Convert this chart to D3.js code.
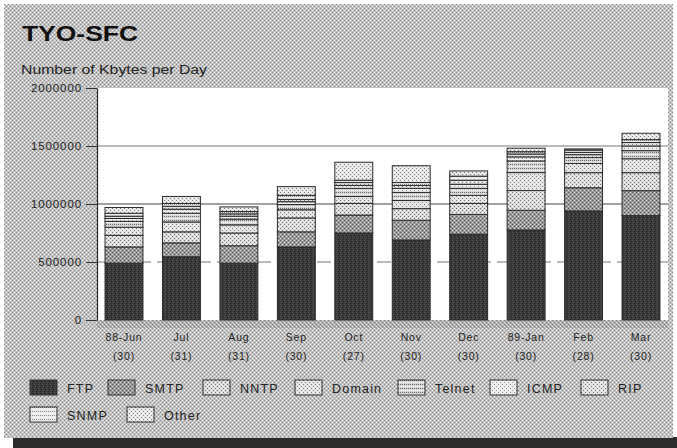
<!DOCTYPE html>
<html>
<head>
<meta charset="utf-8">
<script src="https://cdn.jsdelivr.net/npm/d3@7"></script>
<style>
  html, body { margin: 0; padding: 0; background: #fff; }
  svg { display: block; font-family: "Liberation Sans", Arial, sans-serif; }
</style>
</head>
<body>
<svg id="chart" width="677" height="448"></svg>
<script>
// Monthly traffic on the TYO-SFC link, Kbytes per day, split by protocol
const months = ["88-Jun", "Jul", "Aug", "Sep", "Oct", "Nov", "Dec", "89-Jan", "Feb", "Mar"];
const days = ["(30)", "(31)", "(31)", "(30)", "(27)", "(30)", "(30)", "(30)", "(28)", "(30)"];
const seriesNames = ["FTP", "SMTP", "NNTP", "Domain", "Telnet", "ICMP", "RIP", "SNMP", "Other"];

const ftp    = [490000, 545000, 490000, 630000, 750000, 690000, 740000, 776000, 940000, 900000];
const smtp   = [140000, 120000, 150000, 130000, 155000, 170000, 170000, 170000, 200000, 215000];
const nntp   = [100000,  95000, 110000, 120000, 100000, 100000,  95000, 170000, 130000, 155000];
const domain = [ 70000,  85000,  70000,  70000,  60000,  70000,  70000, 155000,  80000, 120000];
const telnet = [ 50000,  75000,  50000,  45000,  70000,  70000,  60000, 100000,  50000,  70000];
const icmp   = [ 25000,  35000,  25000,  25000,  25000,  35000,  35000,  35000,  25000,  40000];
const rip    = [ 20000,  25000,  20000,  20000,  25000,  25000,  35000,  25000,  20000,  30000];
const snmp   = [ 25000,  25000,  20000,  35000,  20000,  25000,  35000,  20000,  20000,  25000];
const other  = [ 50000,  60000,  40000,  75000, 155000, 145000,  45000,  30000,  10000,  55000];

const yTicks = [0, 500000, 1000000, 1500000, 2000000];

const seriesValues = [ftp, smtp, nntp, domain, telnet, icmp, rip, snmp, other];

const rows = months.map((m, i) => {
  const r = { month: m };
  seriesNames.forEach((s, k) => { r[s] = seriesValues[k][i]; });
  return r;
});

const svg = d3.select("#chart");
const defs = svg.append("defs");

// halftone-like fill patterns
function dotPattern(id, size, base, dots) {
  const p = defs.append("pattern")
    .attr("id", id).attr("patternUnits", "userSpaceOnUse")
    .attr("width", size).attr("height", size);
  p.append("rect").attr("width", size).attr("height", size).attr("fill", base);
  dots.forEach(([x, y, c]) => {
    p.append("rect").attr("x", x).attr("y", y).attr("width", 1).attr("height", 1).attr("fill", c);
  });
}

dotPattern("bg", 4, "#c2c2c2", [[0,0,"#8a8a8a"],[2,2,"#8a8a8a"],[2,0,"#f2f2f2"],[0,2,"#f2f2f2"]]);
dotPattern("bgBottom", 4, "#b4b4b4", [[0,0,"#7a7a7a"],[2,2,"#7a7a7a"],[2,0,"#eeeeee"],[0,2,"#eeeeee"],[1,1,"#999"],[3,3,"#999"]]);

const fills = {
  FTP:    ["p-ftp", 4, "#3a3a3a", [[0,0,"#555"],[3,1,"#222"],[1,2,"#5a5a5a"],[2,3,"#262626"]]],
  SMTP:   ["p-smtp", 4, "#9a9a9a", [[0,0,"#505050"],[2,2,"#505050"],[2,0,"#dcdcdc"],[0,2,"#dcdcdc"]]],
  NNTP:   ["p-nntp", 4, "#dadada", [[0,0,"#707070"],[2,2,"#707070"],[2,0,"#fff"],[0,2,"#fff"]]],
  Domain: ["p-domain", 4, "#e4e4e4", [[0,0,"#7a7a7a"],[2,2,"#8a8a8a"],[2,0,"#fff"]]],
  Telnet: ["p-telnet", 4, "#d6d6d6", [[0,0,"#666"],[2,0,"#666"],[1,2,"#fff"],[3,2,"#fff"]]],
  ICMP:   ["p-icmp", 4, "#eeeeee", [[0,0,"#8a8a8a"],[2,2,"#9a9a9a"]]],
  RIP:    ["p-rip", 4, "#e2e2e2", [[0,0,"#777"],[2,2,"#777"],[0,2,"#fff"]]],
  SNMP:   ["p-snmp", 4, "#ececec", [[0,0,"#888"],[2,0,"#888"],[0,2,"#fff"]]],
  Other:  ["p-other", 4, "#e6e6e6", [[0,0,"#7e7e7e"],[2,2,"#7e7e7e"],[2,0,"#fff"],[0,2,"#fff"]]]
};
seriesNames.forEach(s => dotPattern(...fills[s]));

// panel with drop shadow
svg.append("rect").attr("x", 13).attr("y", 437).attr("width", 664).attr("height", 11).attr("fill", "#2c2c2c");
svg.append("rect").attr("x", 4).attr("y", 4).attr("width", 669).attr("height", 434).attr("fill", "url(#bg)");

const plot = { left: 97, right: 668, top: 88, bottom: 320 };

svg.append("rect")
  .attr("x", plot.left).attr("y", plot.top)
  .attr("width", plot.right - plot.left).attr("height", plot.bottom - plot.top)
  .attr("fill", "#fff");

svg.append("rect")
  .attr("x", plot.left).attr("y", plot.bottom)
  .attr("width", plot.right - plot.left).attr("height", 8)
  .attr("fill", "url(#bgBottom)");

// titles
svg.append("text")
  .attr("x", 22).attr("y", 41)
  .attr("font-size", 22).attr("font-weight", "bold").attr("fill", "#111")
  .attr("textLength", 116).attr("lengthAdjust", "spacingAndGlyphs")
  .text("TYO-SFC");

svg.append("text")
  .attr("x", 21).attr("y", 74)
  .attr("font-size", 12).attr("fill", "#222")
  .attr("textLength", 186).attr("lengthAdjust", "spacingAndGlyphs")
  .text("Number of Kbytes per Day");

// scales
const x = d3.scaleBand()
  .domain(months)
  .range([plot.left, plot.right])
  .paddingInner(0.34)
  .paddingOuter(0.14);

const y = d3.scaleLinear()
  .domain([0, 2000000])
  .range([plot.bottom, plot.top]);

// grid lines
svg.append("g")
  .selectAll("line")
  .data(yTicks.filter(d => d > 0 && d < 2000000))
  .join("line")
  .attr("x1", plot.left).attr("x2", plot.right)
  .attr("y1", d => y(d)).attr("y2", d => y(d))
  .attr("stroke", d => d === 1000000 ? "#444" : "#777")
  .attr("stroke-width", 1.2)
  .attr("stroke-dasharray", d => d === 500000 ? "14,6" : null);

// stacked bars
const stack = d3.stack().keys(seriesNames);
const layers = stack(rows);

svg.append("g")
  .selectAll("g")
  .data(layers)
  .join("g")
  .attr("fill", d => `url(#${fills[d.key][0]})`)
  .selectAll("rect")
  .data(d => d.map(v => ({ v, key: d.key })))
  .join("rect")
  .attr("x", d => x(d.v.data.month))
  .attr("width", x.bandwidth())
  .attr("y", d => y(d.v[1]))
  .attr("height", d => y(d.v[0]) - y(d.v[1]))
  .attr("stroke", "#2a2a2a")
  .attr("stroke-width", 1);

// y axis
const yAxis = svg.append("g")
  .attr("transform", `translate(${plot.left},0)`)
  .call(d3.axisLeft(y).tickValues(yTicks).tickFormat(d3.format("d")).tickSize(11).tickSizeOuter(0).tickPadding(4));
yAxis.select(".domain").attr("stroke", "#222").attr("stroke-width", 1.2);
yAxis.selectAll(".tick line").attr("stroke", "#333");
yAxis.selectAll(".tick text")
  .attr("font-size", 11.5).attr("fill", "#222")
  .attr("letter-spacing", 0.9)
  .attr("font-family", "'Liberation Sans', Arial, sans-serif");

// x axis with two-line labels (month / number of days measured)
const xAxis = svg.append("g")
  .attr("transform", `translate(0,${plot.bottom})`)
  .call(d3.axisBottom(x).tickSize(0).tickPadding(0));
xAxis.select(".domain").remove();
xAxis.selectAll(".tick text").each(function (d, i) {
  const t = d3.select(this);
  t.text(null)
    .attr("y", 0).attr("dy", null)
    .attr("font-size", 10.5).attr("fill", "#222")
    .attr("letter-spacing", 0.8)
    .attr("font-family", "'Liberation Sans', Arial, sans-serif");
  t.append("tspan").attr("x", 0).attr("y", 21).text(d);
  t.append("tspan").attr("x", 0).attr("y", 40).text(days[i]);
});

// legend
const legendPos = [
  [30, 380], [108, 380], [203, 380], [295, 380], [398, 380], [490, 380], [581, 380],
  [30, 407], [127, 407]
];
const legend = svg.append("g")
  .selectAll("g")
  .data(seriesNames)
  .join("g")
  .attr("transform", (d, i) => `translate(${legendPos[i][0]},${legendPos[i][1]})`);

legend.append("rect")
  .attr("width", 27).attr("height", 15)
  .attr("fill", d => `url(#${fills[d][0]})`)
  .attr("stroke", "#333")
  .attr("stroke-width", 1);

legend.append("text")
  .attr("x", 37).attr("y", 13)
  .attr("font-size", 12.5).attr("fill", "#222")
  .attr("letter-spacing", 1.2)
  .text(d => d);
</script>
</body>
</html>
